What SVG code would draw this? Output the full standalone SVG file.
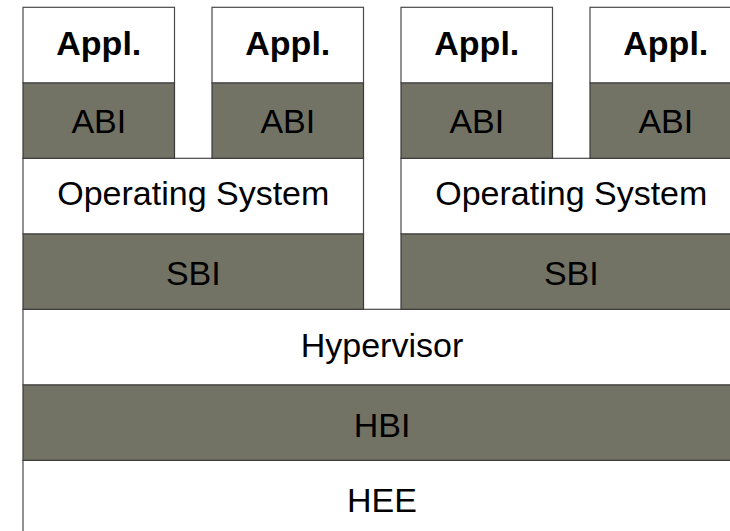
<svg xmlns="http://www.w3.org/2000/svg" width="730" height="531" viewBox="0 0 730 531">
  <style>
    .light { fill: #ffffff; stroke: #4a4a4a; stroke-width: 1.2; }
    .dark { fill: #737365; stroke: #3a3a3a; stroke-width: 1.2; }
    text { font-family: "Liberation Sans", Arial, sans-serif; font-size: 34px; fill: #000; text-anchor: middle; }
    .bold { font-weight: bold; }
  </style>
  <rect width="730" height="531" fill="#ffffff"/>

  <!-- Base layers -->
  <g id="hee">
    <rect class="light" x="23" y="460.3" width="718.5" height="75.5"/>
    <text x="382" y="511.7">HEE</text>
  </g>
  <g id="hbi">
    <rect class="dark" x="23" y="384.8" width="718.5" height="75.5"/>
    <text x="382" y="436.7">HBI</text>
  </g>
  <g id="hypervisor">
    <rect class="light" x="23" y="309.3" width="718.5" height="75.5"/>
    <text x="382" y="356.7">Hypervisor</text>
  </g>

  <!-- Guest stack 1 -->
  <g id="sbi-1">
    <rect class="dark" x="23" y="233.8" width="340.5" height="75.5"/>
    <text x="193.3" y="285">SBI</text>
  </g>
  <g id="os-1">
    <rect class="light" x="23" y="158.3" width="340.5" height="75.5"/>
    <text x="193.3" y="205">Operating System</text>
  </g>
  <g id="abi-1">
    <rect class="dark" x="23" y="82.8" width="151.5" height="75.5"/>
    <text x="98.8" y="132.7">ABI</text>
  </g>
  <g id="appl-1">
    <rect class="light" x="23" y="7.3" width="151.5" height="75.5"/>
    <text class="bold" x="98.8" y="54.5">Appl.</text>
  </g>
  <g id="abi-2">
    <rect class="dark" x="212" y="82.8" width="151.5" height="75.5"/>
    <text x="287.8" y="132.7">ABI</text>
  </g>
  <g id="appl-2">
    <rect class="light" x="212" y="7.3" width="151.5" height="75.5"/>
    <text class="bold" x="287.8" y="54.5">Appl.</text>
  </g>

  <!-- Guest stack 2 -->
  <g id="sbi-2">
    <rect class="dark" x="401" y="233.8" width="340.5" height="75.5"/>
    <text x="571.3" y="285">SBI</text>
  </g>
  <g id="os-2">
    <rect class="light" x="401" y="158.3" width="340.5" height="75.5"/>
    <text x="571.3" y="205">Operating System</text>
  </g>
  <g id="abi-3">
    <rect class="dark" x="401" y="82.8" width="151.5" height="75.5"/>
    <text x="476.8" y="132.7">ABI</text>
  </g>
  <g id="appl-3">
    <rect class="light" x="401" y="7.3" width="151.5" height="75.5"/>
    <text class="bold" x="476.8" y="54.5">Appl.</text>
  </g>
  <g id="abi-4">
    <rect class="dark" x="590" y="82.8" width="151.5" height="75.5"/>
    <text x="665.8" y="132.7">ABI</text>
  </g>
  <g id="appl-4">
    <rect class="light" x="590" y="7.3" width="151.5" height="75.5"/>
    <text class="bold" x="665.8" y="54.5">Appl.</text>
  </g>

  <g id="connectors"></g>
</svg>
